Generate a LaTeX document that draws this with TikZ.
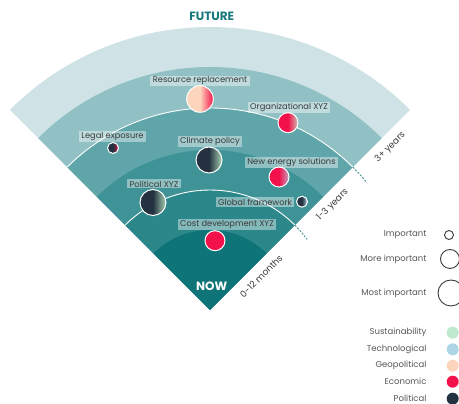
\documentclass[tikz,border=0pt]{standalone}
\usepackage{fontspec}
\setmainfont{Poppins}
\usetikzlibrary{calc}
\definecolor{cB1}{HTML}{CFE3E6}
\definecolor{cB2}{HTML}{91C1C4}
\definecolor{cB3}{HTML}{5FA5A9}
\definecolor{cB4}{HTML}{3F9396}
\definecolor{cB5}{HTML}{2C878A}
\definecolor{cB6}{HTML}{0F7478}
\definecolor{cTeal}{HTML}{17797D}
\definecolor{cDash}{HTML}{3A8E91}
\definecolor{cText}{HTML}{3A3A3A}
\definecolor{cLeg}{HTML}{555555}
\definecolor{cNavy}{HTML}{233140}
\definecolor{cRed}{HTML}{F2114A}
\definecolor{cPeach}{HTML}{FDD5BC}
\definecolor{cMint}{HTML}{BFE9CF}
\definecolor{cGreen}{HTML}{A9D2B4}
\definecolor{cBlue}{HTML}{ADD5E6}
\definecolor{cBeige}{HTML}{CDBFAE}
\definecolor{cLav}{HTML}{BFA3C2}
\definecolor{cDRed}{HTML}{D3103F}
\pgfdeclarehorizontalshading{shRR}{100bp}{color(0bp)=(cPeach); color(50bp)=(cPeach); color(75bp)=(cRed); color(100bp)=(cRed)}
\pgfdeclarehorizontalshading{shOrg}{100bp}{color(0bp)=(cRed); color(50bp)=(cRed); color(75bp)=(cBeige); color(100bp)=(cBeige)}
\pgfdeclarehorizontalshading{shLegal}{100bp}{color(0bp)=(cNavy); color(50bp)=(cNavy); color(75bp)=(cDRed); color(100bp)=(cDRed)}
\pgfdeclarehorizontalshading{shNG}{100bp}{color(0bp)=(cNavy); color(50bp)=(cNavy); color(75bp)=(cGreen); color(100bp)=(cGreen)}
\pgfdeclarehorizontalshading{shNE}{100bp}{color(0bp)=(cRed); color(50bp)=(cRed); color(75bp)=(cLav); color(100bp)=(cLav)}
\pgfdeclarehorizontalshading{shGF}{100bp}{color(0bp)=(cNavy); color(50bp)=(cNavy); color(75bp)=(cBlue); color(100bp)=(cBlue)}
\begin{document}
\begin{tikzpicture}[x=1pt,y=1pt,
  ring/.style={white, line width=0.9pt},
  ext/.style={color=cDash, line width=0.9pt, dash pattern=on 2pt off 1.5pt},
  dot/.style={circle, draw=white, line width=1pt, inner sep=0pt, minimum size=#1},
  lbl/.style={fill=white, fill opacity=0.42, text opacity=1, text=cText, font=\fontsize{8.3}{9}\selectfont, inner xsep=2.5pt, inner ysep=1.3pt},
  rng/.style={rotate=45, text=cText, font=\fontsize{9}{10}\selectfont},
  leg/.style={anchor=east, text=cLeg, font=\fontsize{8.5}{10}\selectfont},
  ldot/.style={circle, fill=#1, inner sep=0pt, minimum size=12pt},
  imp/.style={circle, draw=cText, line width=0.9pt, inner sep=0pt, minimum size=#1},
  big/.style={font=\bfseries\fontsize{12}{14}\selectfont}]
\useasboundingbox (0,0) rectangle (459,404);
\coordinate (apex) at (210,94);
\foreach \r/\c in {283/cB1,243/cB2,202/cB3,160/cB4,120/cB5,80/cB6}
  \fill[\c] (apex) -- +(45:\r) arc[start angle=45,end angle=135,radius=\r] -- cycle;
\draw[ring] ($(apex)+(45:202)$) arc[start angle=45,end angle=135,radius=202];
\draw[ring] ($(apex)+(45:120)$) arc[start angle=45,end angle=135,radius=120];
\draw[ext] ($(apex)+(45:202)$) arc[start angle=45,end angle=39,radius=202];
\draw[ext] ($(apex)+(45:120)$) arc[start angle=45,end angle=36,radius=120];
% titles
\node[big, text=cTeal] (future) at (211.7,388) {FUTURE};
\node[big, text=white] (now) at (211.7,118) {NOW};
% range labels
\node[rng] (r3) at ($(apex)+(45:242.5)+(-45:12.5)$) {3+ years};
\node[rng] (r2) at ($(apex)+(45:161)+(-45:12.5)$) {1-3 years};
\node[rng] (r1) at ($(apex)+(45:60)+(-45:12.5)$) {0-12 months};
% items
\node[dot=26.6pt, shade, shading=shRR] (rr) at (200,305) {};
\node[lbl] (rrL) at (200,323) {Resource replacement};
\node[dot=20pt, shade, shading=shOrg] (org) at (288,281.3) {};
\node[lbl] (orgL) at (289,296.5) {Organizational XYZ};
\node[dot=11pt, shade, shading=shLegal] (legal) at (113,256) {};
\node[lbl] (legalL) at (112.5,267.5) {Legal exposure};
\node[dot=26pt, shade, shading=shNG] (clim) at (209,244) {};
\node[lbl] (climL) at (210,262.5) {Climate policy};
\node[dot=20pt, shade, shading=shNE] (newe) at (279,227) {};
\node[lbl] (neweL) at (291.5,241.5) {New energy solutions};
\node[dot=26pt, shade, shading=shNG] (pol) at (153,201.5) {};
\node[lbl] (polL) at (154,220) {Political XYZ};
\node[dot=11pt, shade, shading=shGF] (glob) at (302,202.3) {};
\node[lbl] (globL) at (255,202) {Global framework};
\node[dot=20pt, fill=cRed] (cost) at (215,163.3) {};
\node[lbl] (costL) at (227,179.5) {Cost development XYZ};
% importance legend
\node[imp=9pt] (i1) at (449,169) {};
\node[leg] (i1t) at (430,169) {Important};
\node[imp=19pt] (i2) at (450,145) {};
\node[leg] (i2t) at (430,145) {More important};
\node[imp=26pt] (i3) at (451,111) {};
\node[leg] (i3t) at (430,111) {Most important};
% category legend
\node[ldot=cMint] (c1) at (452.7,71.3) {};
\node[leg] (c1t) at (430,71.3) {Sustainability};
\node[ldot=cBlue] (c2) at (452.7,54.7) {};
\node[leg] (c2t) at (430,54.7) {Technological};
\node[ldot=cPeach] (c3) at (452.7,38.3) {};
\node[leg] (c3t) at (430,38.3) {Geopolitical};
\node[ldot=cRed] (c4) at (452.7,22.3) {};
\node[leg] (c4t) at (430,22.3) {Economic};
\node[ldot=cNavy] (c5) at (452.7,5.3) {};
\node[leg] (c5t) at (430,5.3) {Political};
\end{tikzpicture}
\end{document}
